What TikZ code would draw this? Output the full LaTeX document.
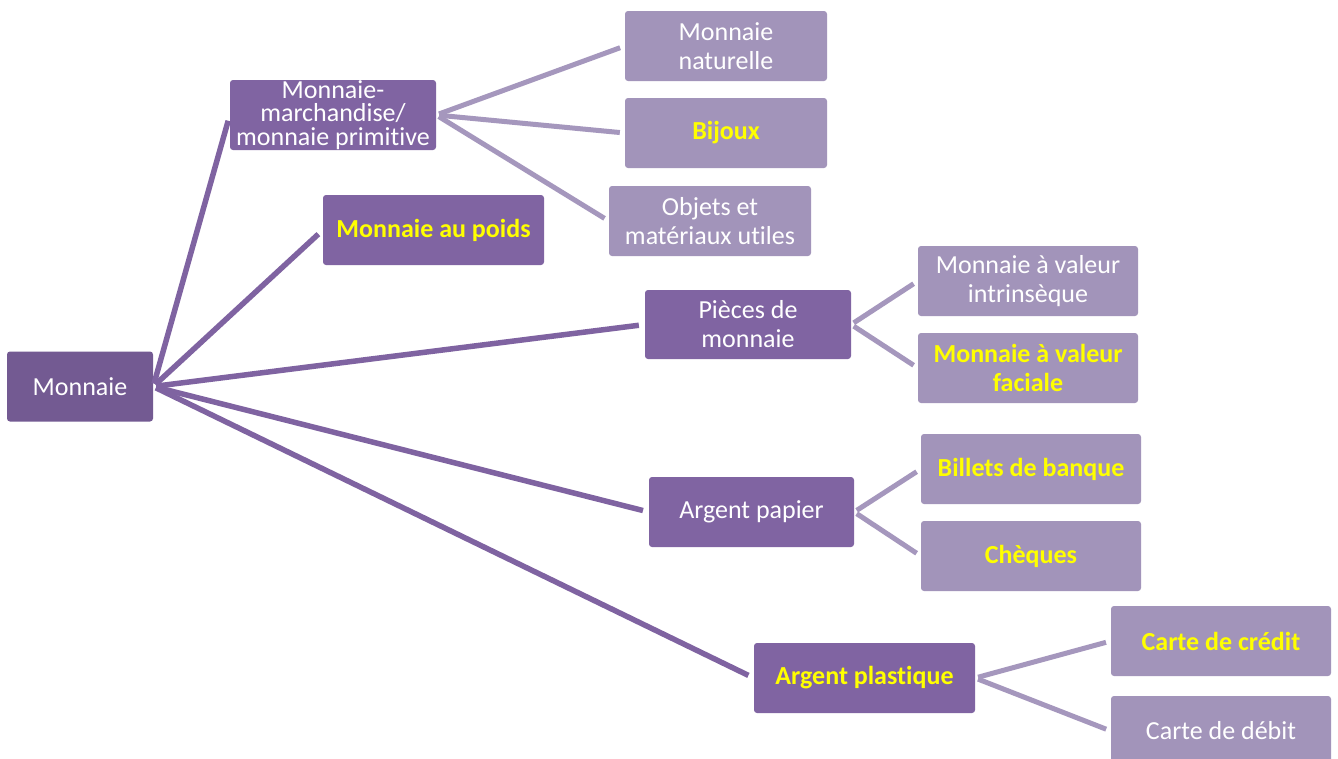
\documentclass[tikz,border=0pt]{standalone}
\usepackage{fontspec}
\setmainfont{Carlito}[Ligatures={NoCommon,TeX}]
\definecolor{rootc}{HTML}{735A92}
\definecolor{lvone}{HTML}{8064A2}
\definecolor{lvtwo}{HTML}{A294BA}
\definecolor{lineone}{HTML}{7F63A1}
\definecolor{linetwo}{HTML}{A597BD}
\definecolor{hiyel}{HTML}{FFFF00}
\begin{document}
\begin{tikzpicture}[x=1pt,y=-1pt,
  box/.style={rectangle,rounded corners=3pt,inner sep=0pt,align=center,
    text=white,font=\fontsize{26}{29}\selectfont},
  rootbox/.style={box,fill=rootc},
  onebox/.style={box,fill=lvone},
  twobox/.style={box,fill=lvtwo},
  hl/.style={text=hiyel,font=\fontsize{26}{29}\selectfont\bfseries},
  conone/.style={draw=lineone,line width=5.5pt,shorten <=3pt,shorten >=6pt},
  contwo/.style={draw=linetwo,line width=5pt,shorten <=3pt,shorten >=5pt}]
\useasboundingbox (0,0) rectangle (1338,758);
\clip (0,0) rectangle (1338,758);
\fill[white] (0,0) rectangle (1338,758);

\node[rootbox,minimum width=146pt,minimum height=70pt] (root) at (80,386.5) {Monnaie};

\node[onebox,minimum width=206pt,minimum height=70pt,font=\fontsize{26}{23.5}\selectfont] (mm) at (333,115) {Monnaie-\\marchandise/\\monnaie primitive};
\node[onebox,hl,minimum width=221pt,minimum height=70pt] (poids) at (433.5,230) {Monnaie au poids};
\node[onebox,minimum width=206pt,minimum height=69pt] (pieces) at (748,324.5) {Pièces de\\monnaie};
\node[onebox,minimum width=205pt,minimum height=70pt] (papier) at (751.5,512) {Argent papier};
\node[onebox,hl,minimum width=221pt,minimum height=70pt] (plast) at (864.5,678) {Argent plastique};

\node[twobox,minimum width=202pt,minimum height=70pt] (nat) at (726,46) {Monnaie\\naturelle};
\node[twobox,hl,minimum width=202pt,minimum height=70pt] (bij) at (726,133) {Bijoux};
\node[twobox,minimum width=202pt,minimum height=70pt] (obj) at (710,221) {Objets et\\matériaux utiles};

\node[twobox,minimum width=220pt,minimum height=70pt] (intr) at (1028,281) {Monnaie à valeur\\intrinsèque};
\node[twobox,hl,minimum width=220pt,minimum height=70pt] (fac) at (1028,368) {Monnaie à valeur\\faciale};

\node[twobox,hl,minimum width=220pt,minimum height=70pt] (bil) at (1031,469) {Billets de banque};
\node[twobox,hl,minimum width=220pt,minimum height=70pt] (chq) at (1031,556) {Chèques};

\node[twobox,hl,minimum width=220pt,minimum height=70pt] (cred) at (1221,641) {Carte de crédit};
\node[twobox,minimum width=220pt,minimum height=70pt] (deb) at (1221,731) {Carte de débit};

\draw[conone] (root.east) -- (mm.west);
\draw[conone] (root.east) -- (poids.west);
\draw[conone] (root.east) -- (pieces.west);
\draw[conone] (root.east) -- (papier.west);
\draw[conone] (root.east) -- (plast.west);

\draw[contwo] (mm.east) -- (nat.west);
\draw[contwo] (mm.east) -- (bij.west);
\draw[contwo] (mm.east) -- (obj.west);
\draw[contwo] (pieces.east) -- (intr.west);
\draw[contwo] (pieces.east) -- (fac.west);
\draw[contwo] (papier.east) -- (bil.west);
\draw[contwo] (papier.east) -- (chq.west);
\draw[contwo] (plast.east) -- (cred.west);
\draw[contwo] (plast.east) -- (deb.west);
\end{tikzpicture}
\end{document}
